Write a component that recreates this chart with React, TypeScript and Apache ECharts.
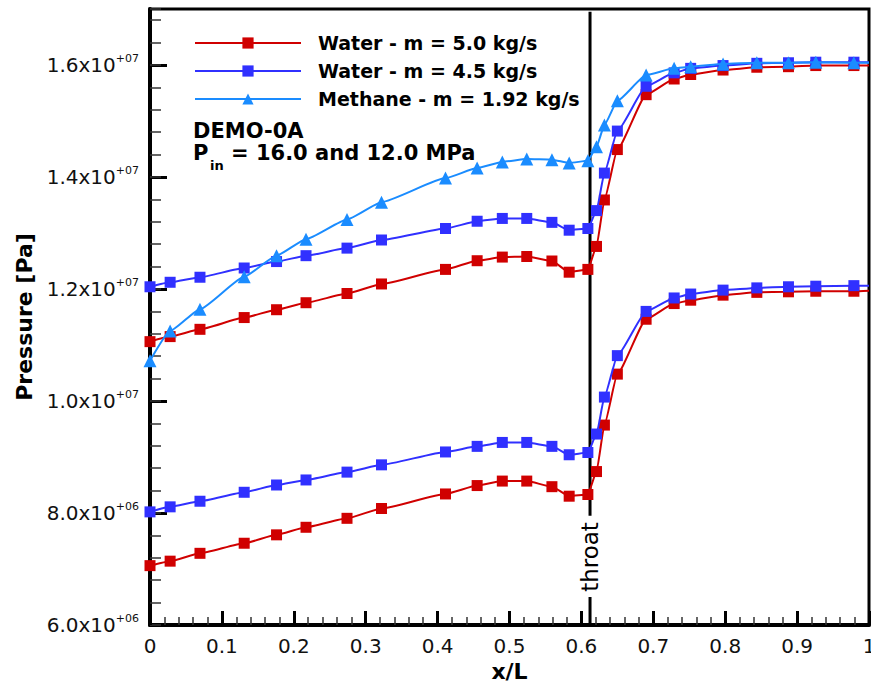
import React, { useEffect, useRef } from "react";
import * as echarts from "echarts";

// x/L positions of the data points (last point = end of line at x/L = 1, no marker)
const X = [0, 0.028, 0.0695, 0.131, 0.176, 0.217, 0.274, 0.322, 0.411, 0.455, 0.49, 0.524, 0.559, 0.583, 0.609, 0.621, 0.632, 0.65, 0.69, 0.729, 0.752, 0.797, 0.844, 0.888, 0.926, 0.979, 1.0];

// Pressures in MPa
const WATER_50_HIGH = [11.06, 11.15, 11.28, 11.49, 11.63, 11.755, 11.92, 12.09, 12.35, 12.505, 12.57, 12.58, 12.5, 12.3, 12.35, 12.76, 13.59, 14.49, 15.47, 15.75, 15.83, 15.91, 15.96, 15.97, 15.99, 15.99, 15.99];
const WATER_45_HIGH = [12.04, 12.12, 12.21, 12.375, 12.49, 12.595, 12.73, 12.875, 13.08, 13.21, 13.26, 13.26, 13.19, 13.05, 13.08, 13.4, 14.07, 14.82, 15.62, 15.86, 15.94, 15.99, 16.03, 16.04, 16.05, 16.05, 16.05];
const METHANE_HIGH = [10.72, 11.25, 11.64, 12.22, 12.595, 12.89, 13.24, 13.55, 13.98, 14.16, 14.27, 14.32, 14.31, 14.25, 14.29, 14.54, 14.93, 15.36, 15.82, 15.94, 15.97, 16.02, 16.04, 16.04, 16.05, 16.04, 16.04];
const WATER_50_LOW = [7.06, 7.14, 7.28, 7.46, 7.61, 7.745, 7.905, 8.08, 8.34, 8.49, 8.57, 8.57, 8.47, 8.3, 8.33, 8.74, 9.57, 10.48, 11.46, 11.74, 11.8, 11.89, 11.94, 11.95, 11.96, 11.96, 11.97];
const WATER_45_LOW = [8.02, 8.11, 8.21, 8.37, 8.5, 8.59, 8.73, 8.86, 9.09, 9.19, 9.26, 9.26, 9.19, 9.04, 9.08, 9.41, 10.07, 10.81, 11.6, 11.84, 11.91, 11.98, 12.02, 12.04, 12.05, 12.06, 12.06];

const NAMES = ["Water - m = 5.0 kg/s", "Water - m = 4.5 kg/s", "Methane - m = 1.92 kg/s"];
const COLORS = ["#d00000", "#3030ff", "#1a8cff"];

const THROAT_X = 0.612;
const THROAT_TOP = [7.95, 16.95];
const THROAT_BOTTOM = [6.0, 6.5];

const Y_MIN = 6e6;
const Y_MAX = 1.7e7;
const FONT = "DejaVu Sans";

const toPts = (ys: number[]) =>
  ys.map((y, i) =>
    i === X.length - 1 ? { value: [X[i], y * 1e6], symbol: "none" } : [X[i], y * 1e6]
  );

function mkSeries(name: string, color: string, ys: number[], symbol: string, size: number, z: number) {
  return {
    type: "line",
    name,
    data: toPts(ys),
    smooth: 0.15,
    smoothMonotone: "x",
    symbol,
    symbolSize: size,
    showAllSymbol: true,
    lineStyle: { color, width: 2 },
    itemStyle: { color },
    z,
  };
}

export default function App() {
  const ref = useRef<HTMLDivElement>(null);
  useEffect(() => {
    if (!ref.current) return;
    const chart = echarts.init(ref.current, undefined, { renderer: "svg" });
    const option: any = {
      animation: false,
      backgroundColor: "#fff",
      grid: {
        left: 150,
        right: 2,
        top: 9,
        bottom: 58,
        containLabel: false,
        outerBoundsMode: "none",
        show: true,
        borderColor: "#000",
        borderWidth: 3,
        backgroundColor: "transparent",
      },
      legend: {
        data: NAMES,
        orient: "vertical",
        left: 194,
        top: 33,
        padding: 0,
        itemWidth: 106,
        itemHeight: 14,
        itemGap: 8,
        selectedMode: false,
        textStyle: {
          fontFamily: FONT,
          fontWeight: "bold",
          fontSize: 19,
          lineHeight: 20,
          color: "#000",
          padding: [0, 0, 0, 12],
        },
      },
      xAxis: {
        type: "value",
        min: 0,
        max: 1,
        interval: 0.1,
        name: "x/L",
        nameLocation: "middle",
        nameGap: 34,
        nameTextStyle: { fontFamily: FONT, fontWeight: "bold", fontSize: 22, color: "#000" },
        axisLine: { show: true, onZero: false, lineStyle: { color: "#000", width: 4 } },
        axisTick: { show: true, inside: true, length: 14, lineStyle: { color: "#000", width: 3 } },
        minorTick: { show: true, splitNumber: 5, length: 8, lineStyle: { color: "#333", width: 1.5 } },
        splitLine: { show: false },
        axisLabel: {
          margin: 11,
          fontFamily: FONT,
          fontSize: 20,
          color: "#111",
          formatter: (v: number) => (v === 0 ? "0" : v === 1 ? "1" : v.toFixed(1)),
        },
      },
      yAxis: [
        {
          type: "value",
          min: Y_MIN,
          max: Y_MAX,
          interval: 2e6,
          name: "Pressure [Pa]",
          nameLocation: "middle",
          nameGap: 112,
          nameRotate: 90,
          nameTextStyle: { fontFamily: FONT, fontWeight: "bold", fontSize: 22, color: "#000" },
          axisLine: { show: true, onZero: false, lineStyle: { color: "#000", width: 4 } },
          axisTick: { show: true, inside: true, length: 17, lineStyle: { color: "#000", width: 3 } },
          splitLine: { show: false },
          axisLabel: {
            margin: 11,
            showMaxLabel: false,
            formatter: (v: number) => {
              const e = Math.floor(Math.log10(v) + 1e-9);
              const m = v / Math.pow(10, e);
              return `{m|${m.toFixed(1)}x10}{e|+${String(e).padStart(2, "0")}}`;
            },
            rich: {
              m: { fontFamily: FONT, fontSize: 20, color: "#111", lineHeight: 24 },
              e: { fontFamily: FONT, fontSize: 11, color: "#111", lineHeight: 11, verticalAlign: "top" },
            },
          },
        },
        {
          type: "value",
          min: Y_MIN,
          max: Y_MAX,
          interval: 4e5,
          position: "left",
          axisLine: { show: false },
          axisTick: { show: true, inside: true, length: 11, lineStyle: { color: "#333", width: 1.5 } },
          axisLabel: { show: false },
          splitLine: { show: false },
        },
      ],
      graphic: [
        {
          type: "text",
          x: 590,
          y: 557,
          rotation: Math.PI / 2,
          style: { text: "throat", fontFamily: FONT, fontSize: 23, fill: "#000", align: "center", verticalAlign: "middle" },
        },
        {
          type: "text",
          x: 193,
          y: 131,
          style: { text: "DEMO-0A", fontFamily: FONT, fontWeight: "bold", fontSize: 21, lineHeight: 20, fill: "#000", align: "left", verticalAlign: "middle" },
        },
        {
          type: "text",
          x: 193,
          y: 153,
          style: { text: "P", fontFamily: FONT, fontWeight: "bold", fontSize: 21, lineHeight: 20, fill: "#000", align: "left", verticalAlign: "middle" },
        },
        {
          type: "text",
          x: 210,
          y: 165,
          style: { text: "in", fontFamily: FONT, fontWeight: "bold", fontSize: 13, lineHeight: 12, fill: "#000", align: "left", verticalAlign: "middle" },
        },
        {
          type: "text",
          x: 231,
          y: 153,
          style: { text: "= 16.0 and 12.0 MPa", fontFamily: FONT, fontWeight: "bold", fontSize: 21, lineHeight: 20, fill: "#000", align: "left", verticalAlign: "middle" },
        },
      ],
      series: [
        {
          type: "line",
          name: "throat-top",
          data: THROAT_TOP.map((y) => [THROAT_X, y * 1e6]),
          symbol: "none",
          silent: true,
          lineStyle: { color: "#000", width: 3 },
          z: 1,
        },
        {
          type: "line",
          name: "throat-bottom",
          data: THROAT_BOTTOM.map((y) => [THROAT_X, y * 1e6]),
          symbol: "none",
          silent: true,
          lineStyle: { color: "#000", width: 3 },
          z: 1,
        },
        mkSeries(NAMES[0], COLORS[0], WATER_50_HIGH, "rect", 11, 2),
        mkSeries(NAMES[0], COLORS[0], WATER_50_LOW, "rect", 11, 2),
        mkSeries(NAMES[1], COLORS[1], WATER_45_HIGH, "rect", 11, 3),
        mkSeries(NAMES[1], COLORS[1], WATER_45_LOW, "rect", 11, 3),
        mkSeries(NAMES[2], COLORS[2], METHANE_HIGH, "triangle", 13, 4),
      ],
    };
    chart.setOption(option);
    return () => chart.dispose();
  }, []);
  return (
    <div
      ref={ref}
      style={{ position: "fixed", left: 0, top: 0, width: 871, height: 683, background: "#fff" }}
    />
  );
}
